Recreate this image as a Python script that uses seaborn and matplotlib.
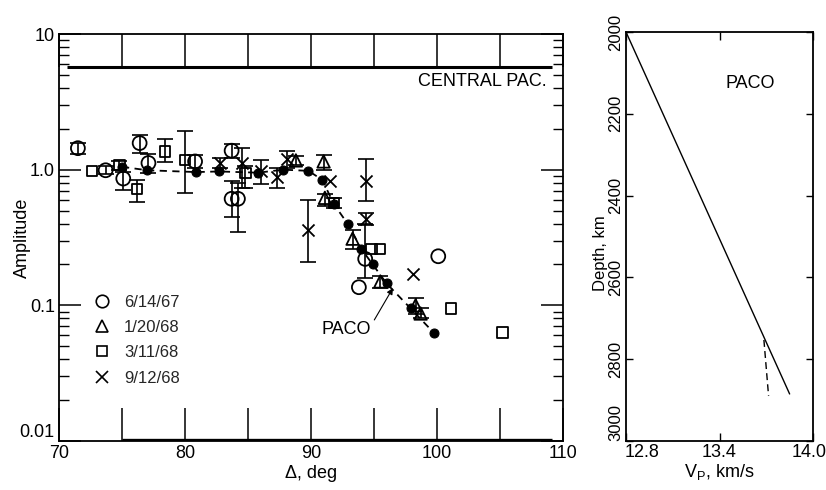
import numpy as np
import pandas as pd
import matplotlib
matplotlib.use("Agg")
import matplotlib.pyplot as plt
import matplotlib.transforms as mtransforms
import seaborn as sns
from matplotlib.lines import Line2D
from matplotlib.ticker import FixedLocator, FixedFormatter, LogLocator, NullFormatter

sns.set_theme(style="white")
plt.rcParams['font.family'] = ['Liberation Sans', 'DejaVu Sans']
plt.rcParams['mathtext.fontset'] = 'custom'
plt.rcParams['mathtext.rm'] = 'Liberation Sans'

nan = np.nan

# ---------------- data ----------------
# PACO reference curve (filled circles, dashed)
paco_delta = [75.0, 77.0, 80.9, 82.7, 85.8, 87.8, 89.8, 90.9, 91.8, 92.9, 94.0, 94.9, 96.0, 97.9, 99.8]
paco_amp = [1.05, 0.99, 0.96, 0.97, 0.95, 1.00, 0.98, 0.84, 0.56, 0.40, 0.26, 0.20, 0.145, 0.095, 0.062]

# 6/14/67 (circles)
c_delta = [71.5, 73.7, 75.1, 76.4, 77.1, 80.8, 83.7, 83.7, 84.2, 93.8, 94.3, 100.1]
c_amp = [1.44, 0.99, 0.86, 1.57, 1.12, 1.15, 1.38, 0.61, 0.61, 0.136, 0.22, 0.23]
c_lo = [1.30, 0.93, 0.71, 1.32, 0.94, 1.02, 1.22, 0.45, 0.35, nan, 0.16, nan]
c_hi = [1.58, 1.06, 0.96, 1.80, 1.30, 1.28, 1.55, 0.83, 0.80, nan, 0.40, nan]

# 1/20/68 (triangles)
t_delta = [88.8, 91.0, 91.1, 93.3, 95.5, 98.3, 98.7]
t_amp = [1.17, 1.15, 0.62, 0.31, 0.15, 0.10, 0.087]
t_lo = [1.08, 1.00, 0.54, 0.26, 0.135, 0.087, 0.080]
t_hi = [1.27, 1.28, 0.66, 0.36, 0.165, 0.113, 0.095]

# 3/11/68 (squares)
s_delta = [72.6, 74.8, 76.2, 78.4, 80.0, 84.8, 91.8, 94.8, 95.5, 101.1, 105.2]
s_amp = [0.98, 1.08, 0.72, 1.36, 1.18, 0.95, 0.57, 0.26, 0.26, 0.095, 0.063]
s_lo = [nan, 1.00, 0.58, 1.14, 0.67, 0.73, 0.52, nan, nan, nan, nan]
s_hi = [nan, 1.15, 0.84, 1.68, 1.92, 1.06, 0.62, nan, nan, nan, nan]

# 9/12/68 (crosses)
x_delta = [82.8, 84.5, 86.0, 87.3, 88.1, 89.8, 91.5, 94.4, 94.4, 98.1]
x_amp = [1.12, 1.12, 0.97, 0.88, 1.20, 0.36, 0.82, 0.82, 0.43, 0.17]
x_lo = [1.02, 0.73, 0.79, 0.73, 1.02, 0.21, nan, 0.59, 0.39, nan]
x_hi = [1.22, 1.44, 1.17, 1.02, 1.38, 0.60, nan, 1.20, 0.48, nan]

event_labels = ["6/14/67", "1/20/68", "3/11/68", "9/12/68"]

x_ticks = [70, 75, 80, 85, 90, 95, 100, 105, 110]
x_ticklabels = ["70", "", "80", "", "90", "", "100", "", "110"]
y_ticks = [0.01, 0.1, 1.0, 10.0]
y_ticklabels = ["0.01", "0.1", "1.0", "10"]

# right panel: Vp model
vp_model = [12.8, 13.85]
depth_model = [2000, 2885]
vp_branch = [13.685, 13.715]
depth_branch = [2753, 2890]
vp_ticks = [12.8, 13.4, 14.0]
vp_ticklabels = ["12.8", "13.4", "14.0"]
depth_ticks = [2000, 2200, 2400, 2600, 2800, 3000]

# ---------------- figure ----------------
fig = plt.figure(figsize=(8.26, 4.90), dpi=100)
ax = fig.add_axes([59/826, 1-441/490, (563-59)/826, (441-34)/490])
ax2 = fig.add_axes([626/826, 1-441/490, 187/826, 409/490])

ax.set_yscale('log')
ax.set_xlim(70, 110)
ax.set_ylim(0.01, 10)

series = [
    (c_delta, c_amp, c_lo, c_hi, 'o', 100),
    (t_delta, t_amp, t_lo, t_hi, '^', 80),
    (s_delta, s_amp, s_lo, s_hi, 's', 55),
    (x_delta, x_amp, x_lo, x_hi, 'x', 75),
]
for d, a, lo, hi, m, s in series:
    d = np.array(d); a = np.array(a); lo = np.array(lo); hi = np.array(hi)
    ok = ~np.isnan(lo)
    ax.errorbar(d[ok], a[ok], yerr=[a[ok]-lo[ok], hi[ok]-a[ok]], fmt='none',
                ecolor='black', elinewidth=1.2, capsize=6, capthick=1.2, zorder=2)
    if m == 'x':
        sns.scatterplot(x=d, y=a, ax=ax, marker='x', s=s, color='black',
                        linewidth=1.3, zorder=3, legend=False)
    else:
        sns.scatterplot(x=d, y=a, ax=ax, marker=m, s=s, facecolors='none',
                        edgecolors='black', linewidth=1.3, zorder=3, legend=False)

sns.lineplot(x=paco_delta, y=paco_amp, ax=ax, color='black', linestyle=(0, (4, 3)),
             linewidth=1.3, marker='o', markersize=6.5, markeredgecolor='black',
             markerfacecolor='black', estimator=None, sort=False, zorder=4)

# top and bottom heavy lines
ax.plot([70.6, 109.1], [5.75, 5.75], color='black', lw=2.2, solid_capstyle='butt', zorder=1)
ax.plot([75, 109.1], [0.0101, 0.0101], color='black', lw=2.4, solid_capstyle='butt', zorder=1)

ax.text(108.7, 4.5, "CENTRAL PAC.", ha='right', va='center', fontsize=13, color='black')

ax.annotate("PACO", xy=(96.5, 0.134), xytext=(92.8, 0.066), ha='center', va='center',
            fontsize=13, color='black',
            arrowprops=dict(arrowstyle='-|>', color='black', lw=0.8, shrinkA=0, shrinkB=0,
                            mutation_scale=9, relpos=(1.0, 0.75)))

# ticks
ax.xaxis.set_major_locator(FixedLocator(x_ticks))
ax.xaxis.set_major_formatter(FixedFormatter(x_ticklabels))
ax.yaxis.set_major_locator(FixedLocator(y_ticks))
ax.yaxis.set_major_formatter(FixedFormatter(y_ticklabels))
ax.yaxis.set_minor_locator(LogLocator(base=10, subs=np.arange(2, 10)))
ax.yaxis.set_minor_formatter(NullFormatter())
ax.tick_params(axis='x', which='major', direction='in', length=24, width=1.1,
               top=True, bottom=True, labelsize=13, pad=3, colors='black')
ax.tick_params(axis='y', which='major', direction='in', length=16, width=1.1,
               left=True, right=True, labelsize=13, pad=3, colors='black')
ax.tick_params(axis='y', which='minor', direction='in', length=7, width=1.0,
               left=True, right=True, colors='black')
for sp in ax.spines.values():
    sp.set_color('black'); sp.set_linewidth(1.3)
# "0.01" sits just above its tick, as in the reference
ax.yaxis.get_major_ticks()[0].label1.set_verticalalignment('bottom')
ax.set_xlabel("Δ, deg", fontsize=13, color='black', labelpad=2)
ax.set_ylabel("Amplitude", fontsize=13, color='black')
ax.yaxis.set_label_coords(-0.056, 0.5)

handles = [
    Line2D([], [], marker='o', ls='none', mfc='none', mec='black', ms=9, mew=1.2),
    Line2D([], [], marker='^', ls='none', mfc='none', mec='black', ms=8.5, mew=1.2),
    Line2D([], [], marker='s', ls='none', mfc='none', mec='black', ms=7, mew=1.2),
    Line2D([], [], marker='x', ls='none', color='black', ms=8.5, mew=1.2),
]
ax.legend(handles, event_labels, loc='upper left', bbox_to_anchor=(0.056, 0.376),
          frameon=False, fontsize=12, handlelength=1.0, handletextpad=0.8,
          labelspacing=0.62, borderaxespad=0)

# ---------------- right panel ----------------
sns.lineplot(x=vp_model, y=depth_model, ax=ax2, color='black', linewidth=1.0,
             estimator=None, sort=False)
sns.lineplot(x=vp_branch, y=depth_branch, ax=ax2, color='black', linewidth=1.0,
             linestyle=(0, (5, 3)), estimator=None, sort=False)
ax2.set_xlim(12.8, 14.0)
ax2.set_ylim(3000, 2000)
ax2.set_xticks(vp_ticks)
ax2.set_xticklabels(vp_ticklabels)
ax2.set_yticks(depth_ticks)
ax2.set_yticklabels([str(v) for v in depth_ticks], rotation=90, va='center')
ax2.tick_params(axis='x', direction='in', length=6, width=1.0, top=True, bottom=True,
                labelsize=13, pad=2, colors='black')
ax2.tick_params(axis='y', direction='in', length=5, width=1.0, left=True, right=True,
                labelsize=12, pad=2, colors='black')
for sp in ax2.spines.values():
    sp.set_color('black'); sp.set_linewidth(1.3)

xt = ax2.xaxis.get_major_ticks()
xt[0].label1.set_horizontalalignment('left')
xt[0].label1.set_transform(xt[0].label1.get_transform() +
                           mtransforms.ScaledTranslation(-1/100, 0, fig.dpi_scale_trans))
xt[2].label1.set_transform(xt[2].label1.get_transform() +
                           mtransforms.ScaledTranslation(-4/100, 0, fig.dpi_scale_trans))
yt = ax2.yaxis.get_major_ticks()
yt[-1].label1.set_verticalalignment('bottom')

ax2.text(13.6, 2125, "PACO", ha='center', va='center', fontsize=13, color='black')
ax2.set_xlabel(r"V$_\mathrm{P}$, km/s", fontsize=13, color='black', labelpad=1)
ax2.set_ylabel("Depth, km", fontsize=12, color='black')
ax2.yaxis.set_label_coords(-0.098, 0.46)

fig.savefig("out.png", dpi=100, facecolor='white')
